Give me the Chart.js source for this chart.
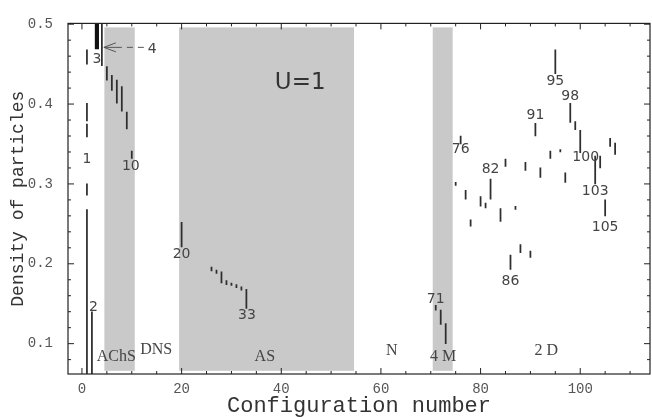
<!DOCTYPE html>
<html>
<head>
<meta charset="utf-8">
<script src="https://cdn.jsdelivr.net/npm/chart.js@4.4.0/dist/chart.umd.min.js"></script>
<style>
  html, body { margin: 0; padding: 0; background: #fff; }
  #wrap { width: 652px; height: 417px; position: relative; }
</style>
</head>
<body>
<div id="wrap"><canvas id="chart"></canvas></div>
<script>
// one entry per vertical segment: configuration number and density range
const configs = [1, 1, 1, 1, 1, 2, 4, 5, 6, 7, 8, 9, 10,
  20, 26, 27, 28, 29, 30, 31, 32, 33,
  71, 72, 73,
  75, 76, 77, 78, 80, 81, 82, 84, 85, 86, 87, 88, 89, 90, 91, 92, 94, 95, 96, 97, 98, 99, 100, 103, 104, 105, 106, 107];
const densityLow = [0.450, 0.379, 0.359, 0.286, 0.0, 0.0, 0.448, 0.430, 0.417, 0.401, 0.391, 0.369, 0.332,
  0.221, 0.191, 0.188, 0.176, 0.174, 0.173, 0.170, 0.167, 0.144,
  0.142, 0.124, 0.100,
  0.298, 0.350, 0.281, 0.247, 0.272, 0.270, 0.281, 0.253, 0.322, 0.193, 0.268, 0.214, 0.317, 0.208, 0.360, 0.308, 0.332, 0.438, 0.340, 0.302, 0.377, 0.368, 0.339, 0.300, 0.320, 0.260, 0.347, 0.337];
const densityHigh = [0.468, 0.401, 0.375, 0.300, 0.268, 0.140, 0.520, 0.447, 0.436, 0.430, 0.422, 0.390, 0.341,
  0.252, 0.196, 0.192, 0.190, 0.179, 0.176, 0.174, 0.171, 0.168,
  0.148, 0.142, 0.125,
  0.302, 0.360, 0.292, 0.255, 0.284, 0.276, 0.306, 0.269, 0.331, 0.211, 0.272, 0.224, 0.327, 0.216, 0.376, 0.320, 0.341, 0.468, 0.343, 0.314, 0.401, 0.378, 0.367, 0.335, 0.335, 0.280, 0.357, 0.351];

// configuration 3 is drawn heavier
const thickConfigs = [3];
const thickLow = [0.469];
const thickHigh = [0.520];

// shaded phase regions
const bandFrom = [4.5, 19.5, 70.4];
const bandTo = [10.6, 54.6, 74.4];
const bandBottom = 0.066;
const bandTop = 0.496;

const xTicks = [0, 20, 40, 60, 80, 100];
const yTicks = [0.1, 0.2, 0.3, 0.4, 0.5];

// numbers written next to segments
const numText = ['1', '2', '3', '10', '20', '33', '71', '76', '82', '86', '91', '95', '98', '100', '103', '105'];
const numAtX = [1, 2.3, 3, 9.8, 20, 33.1, 71, 76, 82, 86, 91, 95, 98, 101.1, 103, 105];
const numAtY = [0.331, 0.146, 0.456, 0.322, 0.212, 0.136, 0.156, 0.343, 0.318, 0.178, 0.386, 0.429, 0.410, 0.333, 0.291, 0.245];

// region names
const regionText = ['AChS', 'DNS', 'AS', 'N', '4 M', '2 D'];
const regionAtX = [6.9, 14.9, 36.7, 62.2, 72.5, 93.2];
const regionAtY = [0.083, 0.092, 0.084, 0.091, 0.083, 0.091];

const segData = configs.map((c, i) => ({ x: c, y: [densityLow[i], densityHigh[i]] }));
const thickData = thickConfigs.map((c, i) => ({ x: c, y: [thickLow[i], thickHigh[i]] }));

const decor = {
  id: 'decor',
  beforeDatasetsDraw(chart) {
    const { ctx, scales: { x, y } } = chart;
    ctx.save();
    ctx.fillStyle = '#c9c9c9';
    bandFrom.forEach((a, i) => {
      const l = x.getPixelForValue(a), r = x.getPixelForValue(bandTo[i]);
      const t = y.getPixelForValue(bandTop), b = y.getPixelForValue(bandBottom);
      ctx.fillRect(l, t, r - l, b - t);
    });
    ctx.restore();
  },
  afterDraw(chart) {
    const { ctx, chartArea: a, scales: { x, y } } = chart;
    ctx.save();

    // labels on segments
    ctx.fillStyle = '#444';
    ctx.textAlign = 'center';
    ctx.textBaseline = 'middle';
    ctx.font = '14px "DejaVu Sans"';
    numText.forEach((t, i) => ctx.fillText(t, x.getPixelForValue(numAtX[i]), y.getPixelForValue(numAtY[i])));
    ctx.fillText('4', x.getPixelForValue(14.1), y.getPixelForValue(0.468));

    ctx.font = '16px "Liberation Serif"';
    regionText.forEach((t, i) => ctx.fillText(t, x.getPixelForValue(regionAtX[i]), y.getPixelForValue(regionAtY[i])));

    ctx.font = '23px "DejaVu Sans"';
    ctx.fillStyle = '#333';
    ctx.fillText('U=1', x.getPixelForValue(43.8), y.getPixelForValue(0.426));

    // dashed arrow to configuration 4
    const ay = y.getPixelForValue(0.471);
    const tip = x.getPixelForValue(4.4), tail = x.getPixelForValue(12.7);
    ctx.strokeStyle = '#555';
    ctx.lineWidth = 1;
    ctx.setLineDash([6, 5]);
    ctx.beginPath();
    ctx.moveTo(tip + 12, ay);
    ctx.lineTo(tail, ay);
    ctx.stroke();
    ctx.setLineDash([]);
    ctx.beginPath();
    ctx.moveTo(tip + 12, ay - 4.5);
    ctx.lineTo(tip, ay);
    ctx.lineTo(tip + 12, ay + 4.5);
    ctx.moveTo(tip, ay);
    ctx.lineTo(tip + 12, ay);
    ctx.stroke();

    // frame with inward ticks on all sides
    ctx.strokeStyle = '#222';
    ctx.lineWidth = 1.2;
    ctx.strokeRect(a.left, a.top, a.right - a.left, a.bottom - a.top);
    ctx.lineWidth = 1;
    ctx.beginPath();
    for (let v = 0; v <= 110; v += 5) {
      const px = x.getPixelForValue(v);
      const len = v % 20 === 0 ? 6 : 3;
      ctx.moveTo(px, a.bottom); ctx.lineTo(px, a.bottom - len);
      ctx.moveTo(px, a.top); ctx.lineTo(px, a.top + len);
    }
    for (let k = 4; k <= 25; k++) {
      const v = k * 0.02;
      const py = y.getPixelForValue(v);
      const len = k % 5 === 0 ? 6 : 3;
      ctx.moveTo(a.left, py); ctx.lineTo(a.left + len, py);
      ctx.moveTo(a.right, py); ctx.lineTo(a.right - len, py);
    }
    ctx.stroke();
    ctx.restore();
  }
};

new Chart(document.getElementById('chart'), {
  type: 'bar',
  data: {
    datasets: [
      { data: segData, backgroundColor: '#2e2e2e', barThickness: 1.1, grouped: false },
      { data: thickData, backgroundColor: '#111', barThickness: 3.5, grouped: false }
    ]
  },
  options: {
    responsive: true,
    maintainAspectRatio: false,
    animation: false,
    devicePixelRatio: 1,
    layout: { padding: { top: 13, right: 2, left: 0, bottom: 0 } },
    plugins: { legend: { display: false }, tooltip: { enabled: false } },
    scales: {
      x: {
        type: 'linear',
        min: -2.8,
        max: 114,
        offset: false,
        grid: { display: false, drawTicks: false },
        border: { display: false },
        afterBuildTicks: s => { s.ticks = xTicks.map(v => ({ value: v })); },
        afterFit: s => { s.height = 43; },
        ticks: { padding: 7, color: '#555', font: { family: 'Liberation Mono', size: 14 }, maxRotation: 0 },
        title: { display: true, text: 'Configuration number', color: '#333', padding: { top: 0, bottom: 0 },
          font: { family: 'Liberation Mono', size: 22, lineHeight: 1 } }
      },
      y: {
        type: 'linear',
        min: 0.062,
        max: 0.501,
        grid: { display: false, drawTicks: false },
        border: { display: false },
        afterBuildTicks: s => { s.ticks = yTicks.map(v => ({ value: v })); },
        afterFit: s => { s.width = 68; },
        ticks: { padding: 15, color: '#555', font: { family: 'Liberation Mono', size: 14 },
          callback: v => v.toFixed(1) },
        title: { display: true, text: 'Density of particles', color: '#333', padding: { top: 7, bottom: 0 },
          font: { family: 'Liberation Mono', size: 18 } }
      }
    }
  },
  plugins: [decor]
});
</script>
</body>
</html>
